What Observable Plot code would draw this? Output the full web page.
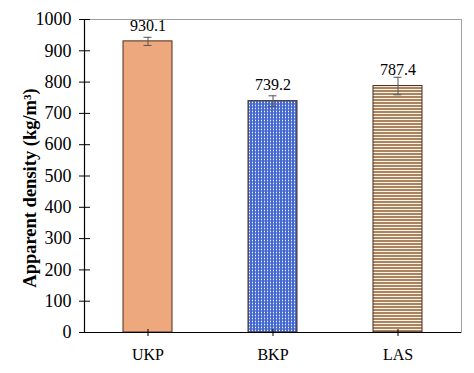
<!DOCTYPE html>
<html>
<head>
<meta charset="utf-8">
<script src="https://cdn.jsdelivr.net/npm/d3@7"></script>
<script src="https://cdn.jsdelivr.net/npm/@observablehq/plot@0.6"></script>
<style>
  html, body { margin: 0; padding: 0; background: #fff; }
  #chart svg { font-family: "Liberation Serif", "Times New Roman", serif; }
  g[aria-label="y-axis label"] text { font-weight: bold; font-size: 18.5px; }
</style>
</head>
<body>
<div id="chart"></div>
<script>
const categories = ["UKP", "BKP", "LAS"];
const values = [930.1, 739.2, 787.4];
const errors = [13, 17, 28];
const labels = ["930.1", "739.2", "787.4"];
const yTicks = [0, 100, 200, 300, 400, 500, 600, 700, 800, 900, 1000];
const fills = ["#EDA87D", "url(#dots)", "url(#stripes)"];

const data = categories.map((c, i) => ({cat: c, v: values[i], e: errors[i], label: labels[i]}));

const plot = Plot.plot({
  width: 474,
  height: 373,
  marginLeft: 84,
  marginRight: 13,
  marginTop: 19,
  marginBottom: 41,
  style: {fontSize: "16px", fontFamily: "Liberation Serif, Times New Roman, serif", color: "#000", background: "#fff"},
  x: {domain: categories, paddingInner: 0.61, paddingOuter: 0.305, label: null},
  y: {domain: [0, 1000], ticks: yTicks, label: null},
  color: {domain: categories, range: fills},
  marks: [
    Plot.frame({stroke: "#a0a0a0", strokeWidth: 1}),
    Plot.barY(data, {x: "cat", y: "v", fill: "cat", stroke: "#4a2c1c", strokeWidth: 1}),
    Plot.ruleX(data, {x: "cat", y1: d => d.v - d.e, y2: d => d.v + d.e, stroke: "#555", strokeWidth: 1}),
    Plot.tickY(data, {x: "cat", y: d => d.v + d.e, stroke: "#555", insetLeft: 20.5, insetRight: 20.5}),
    Plot.tickY(data, {x: "cat", y: d => d.v - d.e, stroke: "#555", insetLeft: 20.5, insetRight: 20.5}),
    Plot.text(data, {x: "cat", y: "v", text: "label", dy: -16, fontSize: 16, fill: "#000"}),
    Plot.axisY({ticks: yTicks, tickFormat: d3.format("d"), tickSize: 5, tickPadding: 8, fontSize: 18,
      label: "Apparent density (kg/m³)", labelArrow: "none", labelAnchor: "center", labelOffset: 62}),
    Plot.axisY({ticks: yTicks, tickSize: -6, text: null, label: null}),
    Plot.axisX({tickSize: 4, tickPadding: 12, fontSize: 16, label: null}),
    Plot.axisX({tickSize: -3, text: null, label: null}),
    Plot.ruleY([0], {stroke: "#000", strokeWidth: 1.2}),
    Plot.frame({anchor: "left", stroke: "#000", strokeWidth: 1.2})
  ]
});

const ns = "http://www.w3.org/2000/svg";
const defs = document.createElementNS(ns, "defs");
defs.innerHTML = `
  <pattern id="dots" patternUnits="userSpaceOnUse" width="3" height="3">
    <rect width="3" height="3" fill="#4569CF"/>
    <rect x="0" y="0" width="1" height="3" fill="#6f8fdd"/>
    <rect x="0" y="0" width="1" height="1" fill="#f4f7ff"/>
  </pattern>
  <pattern id="stripes" patternUnits="userSpaceOnUse" width="4" height="3">
    <rect width="4" height="3" fill="#A9845F"/>
    <rect x="0" y="2" width="4" height="1" fill="#FBF2E8"/>
  </pattern>`;
plot.insertBefore(defs, plot.firstChild);
const lab = plot.querySelector('g[aria-label="y-axis label"]');
if (lab) lab.setAttribute("transform", "translate(0,12) " + (lab.getAttribute("transform") || ""));
document.getElementById("chart").appendChild(plot);
</script>
</body>
</html>
